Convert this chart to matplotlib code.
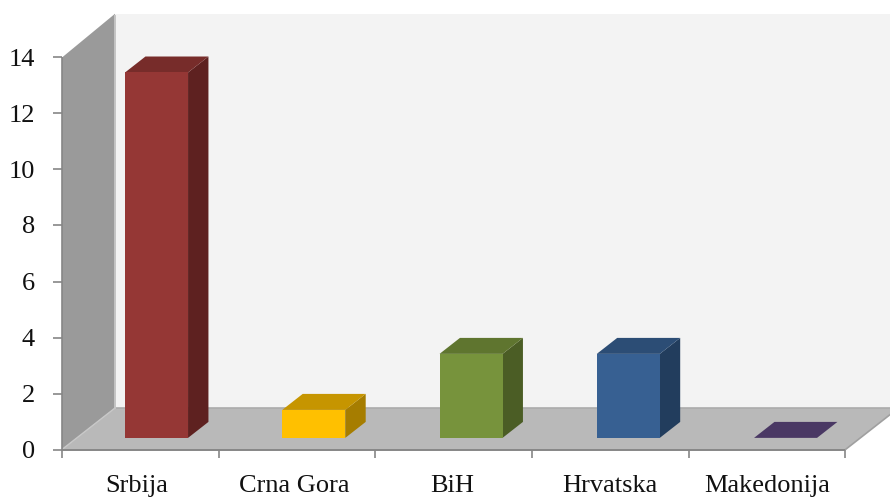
import matplotlib
matplotlib.use("Agg")
import matplotlib.pyplot as plt
from matplotlib.patches import Polygon

categories = ["Srbija", "Crna Gora", "BiH", "Hrvatska", "Makedonija"]
values = [13.05, 1, 3, 3, 0]
yticks = [0, 2, 4, 6, 8, 10, 12, 14]
front = ["#953735", "#FFC000", "#77933C", "#376092", "#4A3864"]
top = ["#772C2A", "#C69500", "#5F752F", "#2C4D75", "#4A3864"]
side = ["#5E2120", "#A67D00", "#4B5D25", "#223D5D", "#4A3864"]

W, H = 890, 499
SLOT = 156.7
BAR_STEP = 157.25
UNIT = 28.0
X0, Y0 = 62, 449.5

fig = plt.figure(figsize=(W / 100, H / 100), dpi=100, facecolor="white")
ax = fig.add_axes([0, 0, 1, 1])
ax.set_xlim(-X0 / SLOT, (W - X0) / SLOT)
ax.set_ylim(-(H - Y0) / UNIT, Y0 / UNIT)
ax.axis("off")

# oblique depth, in data units
DX, DY = 53 / SLOT, 41.5 / UNIT
n = len(categories)
ymax = yticks[-1]
xend = n


def P(x, y, d=0.0):
    return (x + d * DX, y + d * DY)


def poly(pts, fc, z=1, ec="none", lw=0):
    ax.add_patch(Polygon(pts, closed=True, fc=fc, ec=ec, lw=lw, zorder=z))


# back wall, side wall, floor
poly([P(0, 0, 1), P(xend, 0, 1), P(xend, ymax + 0.08, 1), P(0, ymax + 0.08, 1)], "#F3F3F3")
poly([P(0, 0), P(0, 0, 1), P(0, ymax + 0.08, 1), P(0, ymax)], "#9A9A9A")
poly([P(0, 0), P(xend, 0), P(xend, 0, 1), P(0, 0, 1)], "#B9B9B9")

# wall and floor edges
edge = "#ABABAB"
ax.plot([P(0, 0, 1)[0], P(xend, 0, 1)[0]], [P(0, 0, 1)[1]] * 2, color=edge, lw=1.2, zorder=2)
ax.plot([P(0, 0, 1)[0]] * 2, [P(0, 0, 1)[1], P(0, ymax, 1)[1]], color="#C4C4C4", lw=1.4, zorder=2)
ax.plot([P(0, 0)[0], P(0, 0, 1)[0]], [0, P(0, 0, 1)[1]], color="#C8C8C8", lw=1.0, zorder=2)
ax.plot([P(xend, 0)[0], P(xend, 0, 1)[0]], [0, P(xend, 0, 1)[1]], color="#A0A0A0", lw=1.2, zorder=2)

# bars
BAR_W = 63 / SLOT
D1, D2 = 0.28, 0.665
for i, (v, f, t, s) in enumerate(zip(values, front, top, side)):
    xl = (48.2 + i * BAR_STEP) / SLOT
    xr = xl + BAR_W
    poly([P(xr, 0, D1), P(xr, 0, D2), P(xr, v, D2), P(xr, v, D1)], s, 3)
    poly([P(xl, v, D1), P(xr, v, D1), P(xr, v, D2), P(xl, v, D2)], t, 3)
    if v > 0:
        poly([P(xl, 0, D1), P(xr, 0, D1), P(xr, v, D1), P(xl, v, D1)], f, 3)

# axis lines and ticks
axc = "#868686"
ax.plot([0, xend], [0, 0], color=axc, lw=1.4, zorder=4, solid_capstyle="butt")
ax.plot([0, 0], [0, ymax], color=axc, lw=1.2, zorder=4, solid_capstyle="butt")
for i in range(n + 1):
    ax.plot([i, i], [0, -8.5 / UNIT], color=axc, lw=1.2, zorder=4, solid_capstyle="butt")
for y in yticks:
    ax.plot([-9 / SLOT, 0], [y, y], color=axc, lw=1.2, zorder=4, solid_capstyle="butt")

FONT = "Liberation Serif"
for y in yticks:
    ax.text(-27 / SLOT, y - 8 / UNIT, str(y), ha="right", va="baseline", family=FONT,
            fontsize=19, color="#111111")
for i, c in enumerate(categories):
    ax.text(i + 0.5 + (i - 4) / SLOT, -42.5 / UNIT, c, ha="center", va="baseline", family=FONT,
            fontsize=19, color="#111111")

fig.savefig("out.png", dpi=100, facecolor="white")
